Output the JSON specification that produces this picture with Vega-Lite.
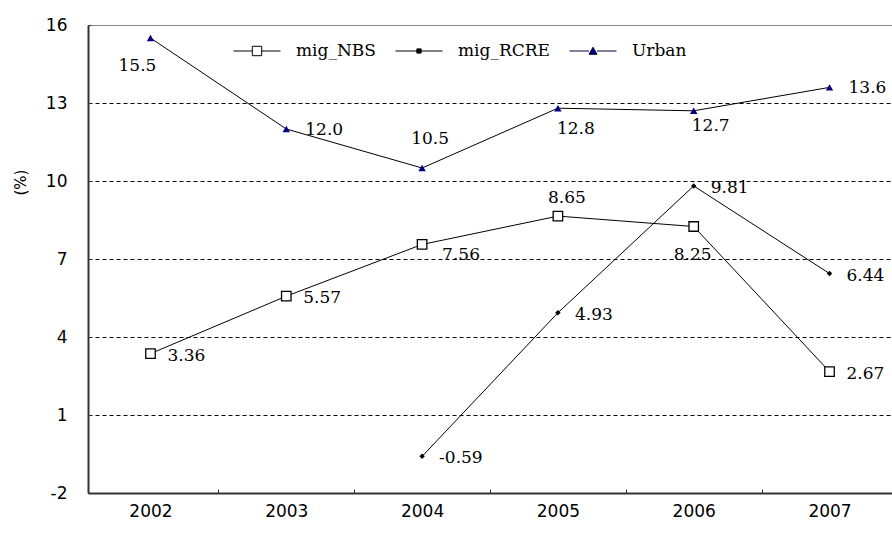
{
  "$schema": "https://vega.github.io/schema/vega-lite/v6.json",
  "width": 804,
  "height": 468,
  "autosize": {"type": "none"},
  "padding": {"left": 88, "top": 25, "right": 0, "bottom": 41},
  "background": "white",
  "data": {
    "values": [
      {"series": "mig_NBS", "year": "2002", "value": 3.36},
      {"series": "mig_NBS", "year": "2003", "value": 5.57},
      {"series": "mig_NBS", "year": "2004", "value": 7.56},
      {"series": "mig_NBS", "year": "2005", "value": 8.65},
      {"series": "mig_NBS", "year": "2006", "value": 8.25},
      {"series": "mig_NBS", "year": "2007", "value": 2.67},
      {"series": "mig_RCRE", "year": "2004", "value": -0.59},
      {"series": "mig_RCRE", "year": "2005", "value": 4.93},
      {"series": "mig_RCRE", "year": "2006", "value": 9.81},
      {"series": "mig_RCRE", "year": "2007", "value": 6.44},
      {"series": "Urban", "year": "2002", "value": 15.5},
      {"series": "Urban", "year": "2003", "value": 12.0},
      {"series": "Urban", "year": "2004", "value": 10.5},
      {"series": "Urban", "year": "2005", "value": 12.8},
      {"series": "Urban", "year": "2006", "value": 12.7},
      {"series": "Urban", "year": "2007", "value": 13.6}
    ]
  },
  "encoding": {
    "x": {
      "field": "year",
      "type": "ordinal",
      "scale": {"type": "point", "padding": 0.46},
      "axis": {
        "title": null,
        "labelAngle": 0,
        "labelFont": "DejaVu Sans",
        "labelFontSize": 17,
        "labelColor": "black",
        "labelPadding": 14,
        "domainColor": "#333333",
        "domainWidth": 2,
        "tickColor": "#333333",
        "tickSize": -4,
        "tickOffset": 68,
        "labelOffset": -68,
        "grid": false
      }
    },
    "y": {
      "field": "value",
      "type": "quantitative",
      "scale": {"domain": [-2, 16], "nice": false, "zero": false},
      "axis": {
        "title": "(%)",
        "titleFont": "DejaVu Sans",
        "titleFontSize": 15,
        "titleFontWeight": "normal",
        "titleColor": "black",
        "titleX": -68,
        "titleY": 157,
        "titleAngle": -90,
        "titleAlign": "center",
        "titleBaseline": "middle",
        "values": [-2, 1, 4, 7, 10, 13, 16],
        "labelExpr": "replace(datum.label, '\u2212', '-')",
        "labelFont": "DejaVu Sans",
        "labelFontSize": 17,
        "labelColor": "black",
        "labelPadding": 24,
        "domainColor": "#333333",
        "domainWidth": 2,
        "tickColor": "#333333",
        "tickSize": -3,
        "grid": true,
        "gridColor": {"condition": {"test": "datum.value == 16", "value": "#888888"}, "value": "black"},
        "gridDash": {"condition": {"test": "datum.value == 16", "value": []}, "value": [4, 3]},
        "gridWidth": 1
      }
    }
  },
  "layer": [
    {
      "transform": [{"filter": "false"}],
      "mark": {"type": "point", "filled": true, "opacity": 1, "strokeWidth": 1},
      "encoding": {
        "shape": {
          "field": "series",
          "type": "nominal",
          "scale": {
            "domain": ["mig_NBS", "mig_RCRE", "Urban"],
            "range": [
              "M-1,0H-0.2M0.2,0H1M-0.2,-0.2H0.2V0.2H-0.2Z",
              "M-1,0H1M-0.09,-0.09H0.09V0.09H-0.09Z",
              "M-1,0H-0.17M0.17,0H1M0,-0.16L0.17,0.14H-0.17Z"
            ]
          },
          "legend": {
            "orient": "none",
            "legendX": 145,
            "legendY": 2,
            "direction": "horizontal",
            "title": null,
            "padding": 0,
            "symbolSize": 2209,
            "symbolStrokeWidth": 1,
            "labelFont": "DejaVu Serif",
            "labelFontSize": 17,
            "labelColor": "black",
            "labelOffset": 15,
            "labelLimit": 0,
            "columnPadding": 17
          }
        },
        "fill": {
          "field": "series",
          "type": "nominal",
          "scale": {"domain": ["mig_NBS", "mig_RCRE", "Urban"], "range": ["white", "black", "#000080"]},
          "legend": {
            "orient": "none",
            "legendX": 145,
            "legendY": 2,
            "direction": "horizontal",
            "title": null,
            "padding": 0,
            "symbolSize": 2209,
            "symbolStrokeWidth": 1,
            "labelFont": "DejaVu Serif",
            "labelFontSize": 17,
            "labelColor": "black",
            "labelOffset": 15,
            "labelLimit": 0,
            "columnPadding": 17
          }
        },
        "stroke": {
          "field": "series",
          "type": "nominal",
          "scale": {"domain": ["mig_NBS", "mig_RCRE", "Urban"], "range": ["black", "black", "#000040"]},
          "legend": {
            "orient": "none",
            "legendX": 145,
            "legendY": 2,
            "direction": "horizontal",
            "title": null,
            "padding": 0,
            "symbolSize": 2209,
            "symbolStrokeWidth": 1,
            "labelFont": "DejaVu Serif",
            "labelFontSize": 17,
            "labelColor": "black",
            "labelOffset": 15,
            "labelLimit": 0,
            "columnPadding": 17
          }
        }
      }
    },
    {
      "mark": {"type": "line", "color": "black", "strokeWidth": 1},
      "encoding": {"detail": {"field": "series"}}
    },
    {
      "transform": [{"filter": "datum.series == 'mig_NBS'"}],
      "mark": {"type": "point", "shape": "square", "size": 90, "filled": true, "fill": "white", "stroke": "black", "strokeWidth": 1.3, "opacity": 1}
    },
    {
      "transform": [{"filter": "datum.series == 'mig_RCRE'"}],
      "mark": {"type": "point", "shape": "diamond", "size": 30, "filled": true, "fill": "black", "opacity": 1}
    },
    {
      "transform": [{"filter": "datum.series == 'Urban'"}],
      "mark": {"type": "point", "shape": "triangle-up", "size": 55, "filled": true, "fill": "#000080", "opacity": 1}
    },
    {
      "transform": [{"filter": "(datum.series == 'mig_NBS' && (datum.year == '2002' || datum.year == '2003' || datum.year == '2007')) || datum.series == 'mig_RCRE'"}],
      "mark": {"type": "text", "font": "DejaVu Serif", "fontSize": 17, "align": "left", "baseline": "middle", "dx": 17, "dy": 2, "color": "black"},
      "encoding": {"text": {"field": "value", "type": "nominal"}}
    },
    {
      "transform": [{"filter": "datum.series == 'Urban' && (datum.year == '2003' || datum.year == '2007')"}],
      "mark": {"type": "text", "font": "DejaVu Serif", "fontSize": 17, "align": "left", "baseline": "middle", "dx": 19, "dy": 1, "color": "black"},
      "encoding": {"text": {"field": "value", "type": "quantitative", "format": ".1f"}}
    },
    {
      "transform": [{"filter": "datum.series == 'mig_NBS' && datum.year == '2004'"}],
      "mark": {"type": "text", "font": "DejaVu Serif", "fontSize": 17, "align": "left", "baseline": "middle", "dx": 20, "dy": 11, "color": "black"},
      "encoding": {"text": {"field": "value", "type": "nominal"}}
    },
    {
      "transform": [{"filter": "datum.series == 'mig_NBS' && datum.year == '2005'"}],
      "mark": {"type": "text", "font": "DejaVu Serif", "fontSize": 17, "align": "center", "baseline": "middle", "dx": 9, "dy": -18, "color": "black"},
      "encoding": {"text": {"field": "value", "type": "nominal"}}
    },
    {
      "transform": [{"filter": "datum.series == 'mig_NBS' && datum.year == '2006'"}],
      "mark": {"type": "text", "font": "DejaVu Serif", "fontSize": 17, "align": "center", "baseline": "middle", "dx": -1, "dy": 28, "color": "black"},
      "encoding": {"text": {"field": "value", "type": "nominal"}}
    },
    {
      "transform": [{"filter": "datum.series == 'Urban' && datum.year == '2002'"}],
      "mark": {"type": "text", "font": "DejaVu Serif", "fontSize": 17, "align": "center", "baseline": "middle", "dx": -13, "dy": 28, "color": "black"},
      "encoding": {"text": {"field": "value", "type": "quantitative", "format": ".1f"}}
    },
    {
      "transform": [{"filter": "datum.series == 'Urban' && datum.year == '2004'"}],
      "mark": {"type": "text", "font": "DejaVu Serif", "fontSize": 17, "align": "center", "baseline": "middle", "dx": 8, "dy": -29, "color": "black"},
      "encoding": {"text": {"field": "value", "type": "quantitative", "format": ".1f"}}
    },
    {
      "transform": [{"filter": "datum.series == 'Urban' && datum.year == '2005'"}],
      "mark": {"type": "text", "font": "DejaVu Serif", "fontSize": 17, "align": "center", "baseline": "middle", "dx": 18, "dy": 21, "color": "black"},
      "encoding": {"text": {"field": "value", "type": "quantitative", "format": ".1f"}}
    },
    {
      "transform": [{"filter": "datum.series == 'Urban' && datum.year == '2006'"}],
      "mark": {"type": "text", "font": "DejaVu Serif", "fontSize": 17, "align": "center", "baseline": "middle", "dx": 17, "dy": 15, "color": "black"},
      "encoding": {"text": {"field": "value", "type": "quantitative", "format": ".1f"}}
    }
  ],
  "config": {
    "view": {"stroke": null}
  }
}
